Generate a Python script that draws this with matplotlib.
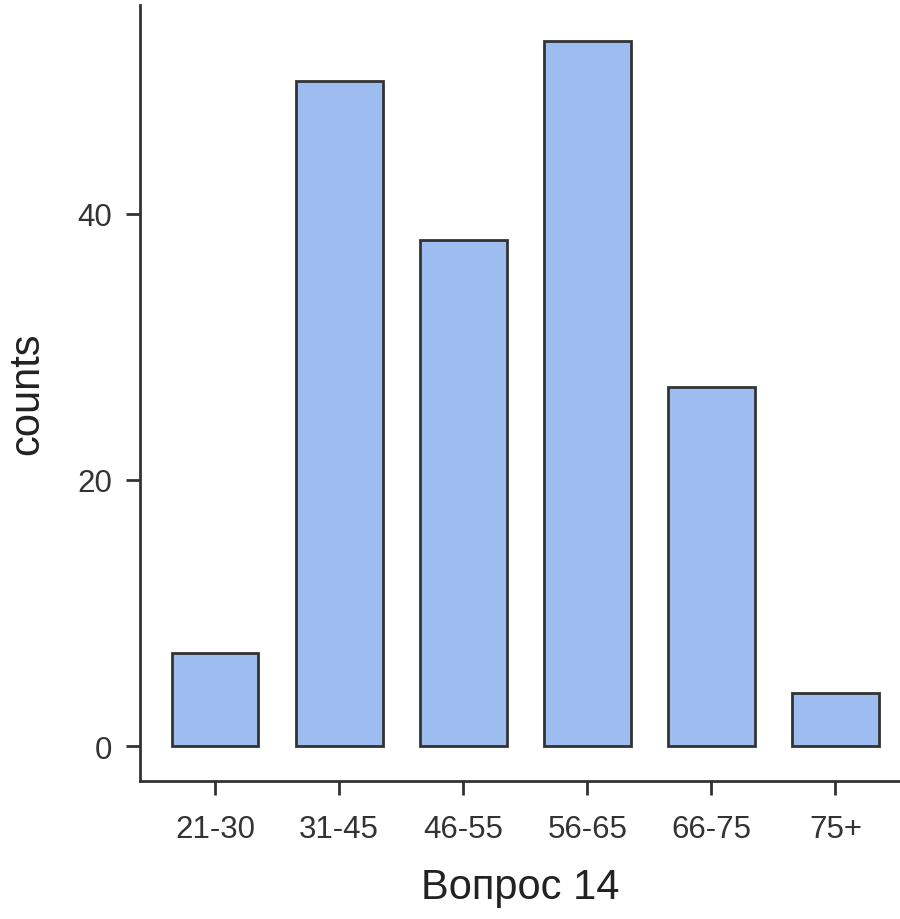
import matplotlib
matplotlib.use("Agg")
import matplotlib.pyplot as plt

categories = ["21-30", "31-45", "46-55", "56-65", "66-75", "75+"]
counts = [7, 50, 38, 53, 27, 4]
yticks = [0, 20, 40]

plt.rcParams['font.family'] = ['Liberation Sans', 'DejaVu Sans']

fig = plt.figure(figsize=(9, 9.2), dpi=100)
ax = fig.add_axes([140/900, 1 - 782/920, 760/900, (782 - 6)/920])

x = list(range(len(categories)))
ax.bar(x, counts, width=0.7, color='#9DBCEF', edgecolor='#333333', linewidth=2, zorder=3)

ax.set_xlim(-0.605, 5.52)
ax.set_ylim(-2.63, 55.7)
ax.set_xticks(x)
ax.set_xticklabels(categories)
ax.set_yticks(yticks)

for s in ['top', 'right']:
    ax.spines[s].set_visible(False)
for s in ['left', 'bottom']:
    ax.spines[s].set_linewidth(2)
    ax.spines[s].set_color('#333333')

ax.tick_params(axis='both', length=10, width=2, color='#333333', labelsize=22.5, labelcolor='#333333')
ax.tick_params(axis='x', pad=14)
ax.tick_params(axis='y', pad=10)
ax.set_xlabel("Вопрос 14", fontsize=30, color='#222222', labelpad=16)
ax.set_ylabel("counts", fontsize=30, color='#222222', labelpad=22)

fig.savefig("out.png", dpi=100)
